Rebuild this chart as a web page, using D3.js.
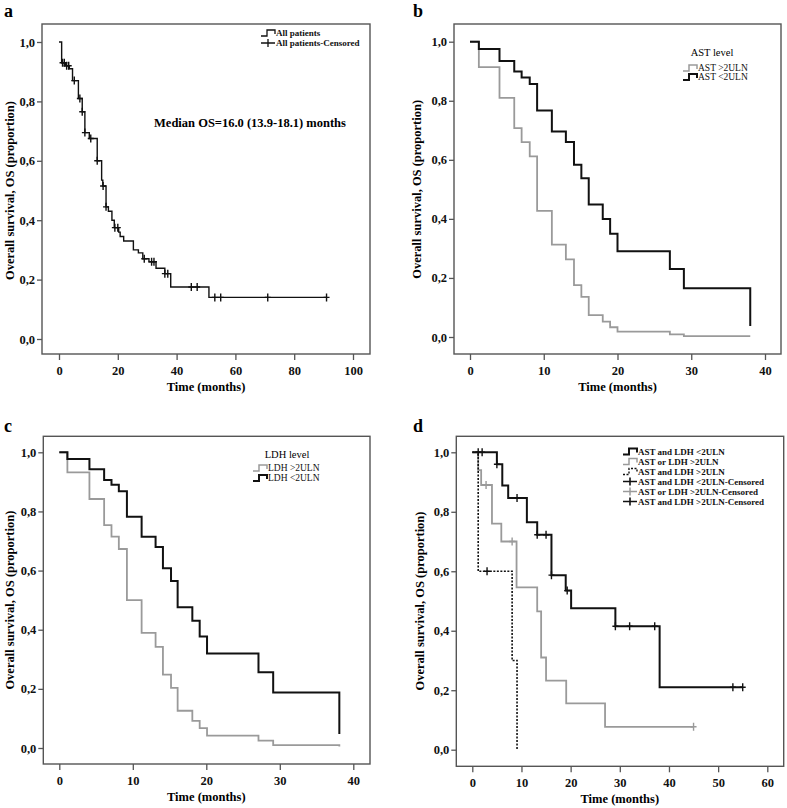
<!DOCTYPE html>
<html><head><meta charset="utf-8">
<script src="https://cdn.jsdelivr.net/npm/d3@7"></script>
<style>
body{margin:0;background:#fff;}
svg{display:block;font-family:"Liberation Serif","Times New Roman",serif;}
</style></head>
<body><svg id="chart" width="787" height="808"></svg>
<script>
// ---------- DATA ----------
// Panel a: all patients (event times / survival after event)
const aTimes = [0, 0.9, 2.2, 3.5, 4.6, 6.6, 7.9, 8.8, 10.3, 13, 14.5, 14.9, 16, 16.8, 18, 18.8, 20.3, 20.8, 22, 25.3, 27, 28.5, 30.6, 33, 36, 38, 51, 91];
const aSurv  = [1, 0.93, 0.92, 0.91, 0.87, 0.81, 0.765, 0.695, 0.675, 0.60, 0.535, 0.515, 0.445, 0.43, 0.40, 0.375, 0.36, 0.345, 0.33, 0.30, 0.29, 0.27, 0.26, 0.238, 0.22, 0.175, 0.14, 0.14];
const aCensored = [1.2, 1.8, 2.6, 3.3, 5.2, 7.1, 7.9, 8.8, 10.8, 13, 15, 16, 19, 20, 29, 31.5, 32.3, 36, 37, 45, 47, 53, 55, 71, 91];

// Panel b: AST level
const bTimes    = [0, 1.2, 4, 6, 7, 8.1, 9.1, 11.1, 13, 14.1, 15.1, 16.1, 18, 19, 20, 27.1, 29, 38];
const bAstHigh  = [1, 0.914, 0.81, 0.707, 0.66, 0.612, 0.427, 0.313, 0.263, 0.176, 0.136, 0.074, 0.052, 0.033, 0.018, 0.009, 0.003, 0.003];
const bAstLow   = [1, 0.975, 0.935, 0.899, 0.879, 0.857, 0.767, 0.696, 0.66, 0.583, 0.538, 0.449, 0.40, 0.35, 0.29, 0.23, 0.165, 0.037];

// Panel c: LDH level
const cTimes    = [0, 1.1, 4.1, 6.1, 7.1, 8.1, 9.2, 11.2, 13.1, 14.1, 15.2, 16.1, 18.1, 19.1, 20.1, 27.1, 29.1, 38.1];
const cLdhHigh  = [1, 0.932, 0.842, 0.754, 0.715, 0.673, 0.50, 0.389, 0.342, 0.248, 0.203, 0.126, 0.092, 0.067, 0.042, 0.025, 0.01, 0.005];
const cLdhLow   = [1, 0.977, 0.943, 0.906, 0.89, 0.868, 0.782, 0.714, 0.68, 0.608, 0.565, 0.476, 0.43, 0.377, 0.32, 0.256, 0.188, 0.047];

// Panel d: AST and LDH combined
const dBothLowTimes = [0, 5, 6.1, 7.3, 11.1, 13.2, 16.1, 19, 20.1, 29.1, 38.1, 55];
const dBothLowSurv  = [1, 0.96, 0.888, 0.846, 0.765, 0.723, 0.587, 0.535, 0.476, 0.415, 0.21, 0.21];
const dBothLowCens  = [1.2, 2, 5, 9.1, 13.2, 15, 16.1, 19.3, 29.1, 32, 37.1, 53, 55];
const dOneHighTimes = [0, 1.2, 1.8, 4, 5.9, 9, 13.2, 14, 15, 19.1, 27, 45];
const dOneHighSurv  = [1, 0.94, 0.89, 0.76, 0.70, 0.546, 0.465, 0.31, 0.232, 0.156, 0.077, 0.077];
const dOneHighCens  = [2.8, 8.1, 45];
const dBothHighTimes = [0, 1.2, 8.1, 9.1];
const dBothHighSurv  = [1, 0.60, 0.30, 0];
const dBothHighCens  = [3];

const yTicks = [0, 0.2, 0.4, 0.6, 0.8, 1.0];
const xTicksA = [0, 20, 40, 60, 80, 100];
const xTicksB = [0, 10, 20, 30, 40];
const xTicksC = [0, 10, 20, 30, 40];
const xTicksD = [0, 10, 20, 30, 40, 50, 60];

const yTitle = "Overall survival, OS (proportion)";
const xTitle = "Time (months)";

// ---------- DRAW ----------
const svg = d3.select("#chart");
const BLACK = "#111", GRAY = "#9a9a9a", FRAME = "#555";

function panel(cfg) {
  const g = svg.append("g");
  const x = d3.scaleLinear().domain(cfg.xDomain).range(cfg.xRange);
  const y = d3.scaleLinear().domain([0, 1]).range(cfg.yRange);
  const f = cfg.frame; // [left, top, right, bottom]
  g.append("rect").attr("x", f[0]).attr("y", f[1]).attr("width", f[2]-f[0]).attr("height", f[3]-f[1])
    .attr("fill", "none").attr("stroke", FRAME).attr("stroke-width", 1.4);

  const fmt = d => d3.format(".1f")(d).replace(".", ",");
  const ya = g.append("g").attr("transform", `translate(${f[0]},0)`)
    .call(d3.axisLeft(y).tickValues(yTicks).tickFormat(fmt).tickSize(5).tickPadding(2));
  const xa = g.append("g").attr("transform", `translate(0,${f[3]})`)
    .call(d3.axisBottom(x).tickValues(cfg.xTicks).tickFormat(d3.format("d")).tickSize(6).tickPadding(6));
  [ya, xa].forEach(a => {
    a.select(".domain").remove();
    a.selectAll(".tick line").attr("stroke", FRAME).attr("stroke-width", 1.3);
    a.selectAll(".tick text").attr("fill", "#111").attr("font-size", 12.5).attr("font-weight", "bold")
      .attr("font-family", "Liberation Serif, serif");
  });

  g.append("text").attr("x", (cfg.xRange[0]+cfg.xRange[1])/2).attr("y", f[3] + 37)
    .attr("text-anchor", "middle").attr("font-size", 12.5).attr("font-weight", "bold").text(xTitle);
  const ymid = (cfg.yRange[0]+cfg.yRange[1])/2;
  g.append("text").attr("transform", `translate(${cfg.yTitleX},${ymid}) rotate(-90)`)
    .attr("text-anchor", "middle").attr("dominant-baseline", "central")
    .attr("font-size", 12.5).attr("font-weight", "bold").text(yTitle);
  g.append("text").attr("x", cfg.letter[0]).attr("y", cfg.letter[1])
    .attr("font-size", 18).attr("font-weight", "bold").text(cfg.letterText);

  const line = d3.line().x(d => x(d[0])).y(d => y(d[1])).curve(d3.curveStepAfter);
  cfg.series.forEach(s => {
    const pts = s.times.map((t, i) => [t, s.surv[i]]);
    g.append("path").attr("d", line(pts)).attr("fill", "none").attr("stroke", s.color)
      .attr("stroke-width", s.width).attr("stroke-dasharray", s.dash || null);
    if (s.cens) {
      const bis = d3.bisector(d => d).right;
      s.cens.forEach(c => {
        const i = Math.max(0, bis(s.times, c) - 1);
        const cx = x(c), cy = y(s.surv[i]);
        g.append("path").attr("d", `M${cx-3},${cy}H${cx+3}M${cx},${cy-4}V${cy+4}`)
          .attr("stroke", s.censColor || s.color).attr("stroke-width", 1.4).attr("fill", "none");
      });
    }
  });
  return {g, x, y};
}

function legendItem(g, x0, yc, type, color, label, size, width, dash, weight) {
  if (type === "step") {
    g.append("path").attr("d", `M${x0},${yc+3}H${x0+6}V${yc-3}H${x0+14}V${yc+1}`)
      .attr("fill", "none").attr("stroke", color).attr("stroke-width", width).attr("stroke-dasharray", dash || null);
  } else {
    g.append("path").attr("d", `M${x0},${yc}H${x0+14}M${x0+7},${yc-4}V${yc+4}`)
      .attr("fill", "none").attr("stroke", color).attr("stroke-width", width);
  }
  g.append("text").attr("x", x0 + 15).attr("y", yc).attr("dominant-baseline", "central")
    .attr("font-size", size).attr("font-weight", weight || "bold").attr("fill", "#111").text(label);
}

// Panel a
const pa = panel({
  frame: [42, 24, 370, 354], xDomain: [0, 100], xRange: [59, 353], yRange: [339, 42],
  xTicks: xTicksA, yTitleX: 10, letter: [4, 17], letterText: "a",
  series: [{times: aTimes, surv: aSurv, color: BLACK, width: 1.4, cens: aCensored}]
});
legendItem(pa.g, 261, 33, "step", BLACK, "All patients", 9, 1.3);
legendItem(pa.g, 261, 43, "cens", BLACK, "All patients-Censored", 9, 1.3);
pa.g.append("text").attr("x", 250).attr("y", 123).attr("text-anchor", "middle").attr("dominant-baseline", "central")
  .attr("font-size", 12.5).attr("font-weight", "bold").text("Median OS=16.0 (13.9-18.1) months");

// Panel b
const pb = panel({
  frame: [454, 24, 781, 354], xDomain: [0, 40], xRange: [470, 765], yRange: [337, 41.7],
  xTicks: xTicksB, yTitleX: 417, letter: [413, 17], letterText: "b",
  series: [
    {times: bTimes, surv: bAstHigh, color: GRAY, width: 1.8},
    {times: bTimes, surv: bAstLow, color: BLACK, width: 2}
  ]
});
pb.g.append("text").attr("x", 712).attr("y", 52).attr("text-anchor", "middle").attr("dominant-baseline", "central")
  .attr("font-size", 10.5).text("AST level");
legendItem(pb.g, 683, 68, "step", GRAY, "AST >2ULN", 9.5, 1.5, null, "normal");
legendItem(pb.g, 683, 77, "step", BLACK, "AST <2ULN", 9.5, 2, null, "normal");

// Panel c
const pc = panel({
  frame: [43.3, 436.3, 370, 764], xDomain: [0, 40], xRange: [59.3, 353.3], yRange: [748, 452.3],
  xTicks: xTicksC, yTitleX: 10, letter: [4, 432], letterText: "c",
  series: [
    {times: cTimes, surv: cLdhHigh, color: GRAY, width: 1.8},
    {times: cTimes, surv: cLdhLow, color: BLACK, width: 2}
  ]
});
pc.g.append("text").attr("x", 287).attr("y", 454).attr("text-anchor", "middle").attr("dominant-baseline", "central")
  .attr("font-size", 10.5).text("LDH level");
legendItem(pc.g, 253, 468, "step", GRAY, "LDH >2ULN", 9.5, 1.5, null, "normal");
legendItem(pc.g, 253, 478, "step", BLACK, "LDH <2ULN", 9.5, 2, null, "normal");

// Panel d
const pd = panel({
  frame: [456.3, 436.3, 783.7, 766.3], xDomain: [0, 60], xRange: [472.3, 767.3], yRange: [749.7, 452.3],
  xTicks: xTicksD, yTitleX: 420, letter: [413, 432], letterText: "d",
  series: [
    {times: dOneHighTimes, surv: dOneHighSurv, color: GRAY, width: 1.8, cens: dOneHighCens},
    {times: dBothHighTimes, surv: dBothHighSurv, color: BLACK, width: 1.6, dash: "2,1.5", cens: dBothHighCens},
    {times: dBothLowTimes, surv: dBothLowSurv, color: BLACK, width: 2, cens: dBothLowCens}
  ]
});
const dLegend = [
  ["step", BLACK, "AST and LDH <2ULN", 2, null],
  ["step", GRAY, "AST or LDH >2ULN", 1.5, null],
  ["step", BLACK, "AST and LDH >2ULN", 1.4, "2,1.5"],
  ["cens", BLACK, "AST and LDH <2ULN-Censored", 1.6, null],
  ["cens", GRAY, "AST or LDH >2ULN-Censored", 1.5, null],
  ["cens", BLACK, "AST and LDH >2ULN-Censored", 1.6, null]
];
dLegend.forEach((d, i) => legendItem(pd.g, 623, 451.5 + i * 10, d[0], d[1], d[2], 9, d[3], d[4]));
</script></body></html>
